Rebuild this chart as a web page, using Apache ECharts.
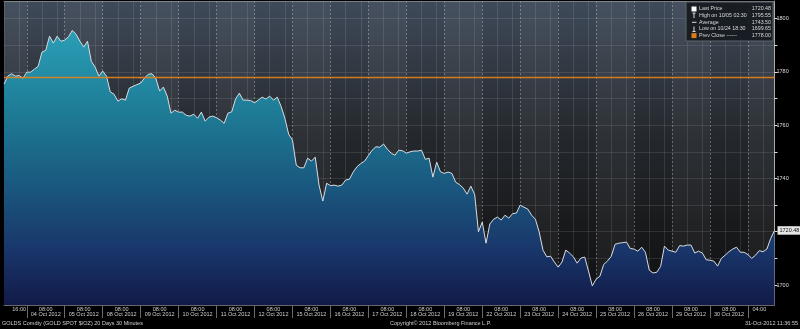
<!DOCTYPE html>
<html><head><meta charset="utf-8">
<script src="https://cdn.jsdelivr.net/npm/echarts@6/dist/echarts.min.js"></script>
<style>html,body{margin:0;padding:0;background:#000;}#c{width:800px;height:329px;}</style>
</head><body><div id="c"></div>
<script>
const days = ['03 Oct 2012','04 Oct 2012','05 Oct 2012','08 Oct 2012','09 Oct 2012','10 Oct 2012','11 Oct 2012','12 Oct 2012','15 Oct 2012','16 Oct 2012','17 Oct 2012','18 Oct 2012','19 Oct 2012','22 Oct 2012','23 Oct 2012','24 Oct 2012','25 Oct 2012','26 Oct 2012','29 Oct 2012','30 Oct 2012','31 Oct 2012'];
const price = [
1775.4,1778.4,1779.3,1778.4,1778.6,1777.6,
1779.9,1779.9,1781.0,1782.1,1787.4,1788.1,1793.4,1790.8,1793.4,1791.5,
1791.9,1793.2,1795.55,1794.1,1791.5,1789.3,1791.5,1784.0,1781.8,1778.4,
1780.3,1778.4,1772.5,1771.6,1769.0,1769.9,1769.4,1773.9,1774.6,1775.2,
1775.8,1777.6,1779.1,1779.3,1777.6,1772.8,1774.3,1770.9,1764.5,1765.6,
1764.9,1764.9,1763.7,1763.4,1764.1,1762.6,1764.9,1761.5,1763.0,1763.4,
1762.8,1761.9,1760.7,1764.5,1765.0,1769.8,1772.0,1769.4,1769.4,1769.2,
1768.4,1769.4,1770.5,1769.8,1770.9,1769.4,1770.5,1767.1,1762.6,1756.6,
1754.4,1745.0,1744.0,1744.0,1747.6,1746.5,1748.0,1737.5,1731.5,1738.2,
1737.3,1737.5,1737.1,1737.5,1739.4,1739.7,1742.4,1744.4,1745.6,1746.5,
1748.6,1750.6,1751.9,1751.7,1752.9,1751.0,1749.5,1748.7,1750.6,1750.4,
1749.5,1750.0,1750.3,1750.3,1750.6,1747.2,1747.6,1740.5,1746.1,1742.5,
1741.9,1742.4,1741.9,1738.6,1737.7,1736.4,1734.1,1737.1,1734.0,1720.0,
1723.6,1715.7,1722.9,1724.7,1725.5,1724.4,1726.2,1725.1,1726.8,1727.0,
1730.0,1729.2,1728.5,1726.2,1724.7,1719.9,1713.1,1710.6,1710.8,1708.6,
1706.7,1708.6,1713.1,1712.0,1710.6,1708.2,1710.1,1710.5,1705.2,1699.65,
1702.2,1703.3,1707.7,1709.0,1710.8,1715.3,1715.7,1715.9,1716.1,1713.7,
1713.5,1712.7,1714.2,1712.3,1705.6,1704.5,1704.8,1707.0,1714.6,1713.1,
1712.7,1712.3,1714.8,1714.6,1715.0,1715.0,1712.0,1712.7,1712.0,1709.5,
1709.3,1709.0,1707.1,1710.0,1711.2,1712.5,1713.5,1714.2,1712.3,1712.3,
1711.4,1710.0,1711.2,1712.9,1712.5,1713.5,1717.5,1720.48
];
const prevClose = 1778.00;
const legendLabels = ['Last Price','High on 10/05 02:30','Average','Low on 10/24 18:30','Prev Close ------'];
const legendValues = ['1720.48','1795.55','1743.50','1699.65','1778.00'];
const footerTexts = ['GOLDS Comdty (GOLD SPOT $/OZ) 20 Days 30 Minutes','Copyright\u00a9 2012 Bloomberg Finance L.P.','31-Oct-2012 11:36:55'];

const FONT = '"Liberation Sans", Arial, sans-serif';
const ORANGE = '#e8821a';
const P = 10, FIRST = 6, N = price.length, FULLDAYS = days.length - 2;
const cats = price.map((_, i) => String(i));
const mod = i => (((i - FIRST) % P) + P) % P;
const isBoundary = i => i >= FIRST && mod(i) === 0 && i < N - 1;
const isMinor = i => mod(i) === 4 || mod(i) === 8;
function labelFor(i) {
  if (i === 4) return '16:00';
  if (i === N - 5) return '04:00';
  const r = i - FIRST;
  if (r >= 0 && r % P === 5 && i < FIRST + P * FULLDAYS) return '08:00\n' + days[1 + (r - 5) / P];
  return null;
}
const dayStart = k => k === 0 ? 0 : FIRST + P * (k - 1);
const dayEnd = k => Math.min(FIRST + P * k, N - 1);
const bands = [];
for (let k = 0; k < days.length; k += 2) bands.push([{ xAxis: cats[dayStart(k)] }, { xAxis: cats[dayEnd(k)] }]);
const last = price[N - 1];

const chart = echarts.init(document.getElementById('c'), null, { renderer: 'canvas' });
const LG = echarts.graphic.LinearGradient;
const rows = [9, 15.6, 22.3, 29, 35.6];
const graphics = [
  { type: 'rect', z: 100, shape: { x: 686, y: 2, width: 87, height: 39 }, style: { fill: 'rgba(22,27,33,0.95)', stroke: '#5f656c', lineWidth: 1 } },
  { type: 'rect', z: 101, shape: { x: 691.5, y: rows[0] - 2.5, width: 5, height: 5 }, style: { fill: '#ffffff' } },
  { type: 'line', z: 101, shape: { x1: 692.5, y1: rows[1] - 2.5, x2: 695.5, y2: rows[1] - 2.5 }, style: { stroke: '#ddd', lineWidth: 1 } },
  { type: 'line', z: 101, shape: { x1: 694, y1: rows[1] - 2.5, x2: 694, y2: rows[1] + 2.5 }, style: { stroke: '#ddd', lineWidth: 1 } },
  { type: 'line', z: 101, shape: { x1: 692, y1: rows[2], x2: 696.5, y2: rows[2] }, style: { stroke: '#ddd', lineWidth: 1 } },
  { type: 'line', z: 101, shape: { x1: 694, y1: rows[3] - 2.5, x2: 694, y2: rows[3] + 2.5 }, style: { stroke: '#ddd', lineWidth: 1 } },
  { type: 'line', z: 101, shape: { x1: 692.5, y1: rows[3] + 2.5, x2: 695.5, y2: rows[3] + 2.5 }, style: { stroke: '#ddd', lineWidth: 1 } },
  { type: 'rect', z: 101, shape: { x: 691.5, y: rows[4] - 2.5, width: 5, height: 5 }, style: { fill: '#e07b1c' } }
];
legendLabels.forEach((t, k) => {
  graphics.push({ type: 'text', z: 101, style: { text: t, x: 699, y: rows[k], fill: '#d8d8d8', fontSize: 5.3, fontFamily: FONT, verticalAlign: 'middle', align: 'left' } });
  graphics.push({ type: 'text', z: 101, style: { text: legendValues[k], x: 771, y: rows[k], fill: '#d8d8d8', fontSize: 5.3, fontFamily: FONT, verticalAlign: 'middle', align: 'right' } });
});
graphics.push({ type: 'text', z: 101, style: { text: footerTexts[0], x: 2, y: 323.5, fill: '#d0d0d0', fontSize: 5.5, fontFamily: FONT, verticalAlign: 'middle', align: 'left' } });
graphics.push({ type: 'text', z: 101, style: { text: footerTexts[1], x: 390, y: 323.5, fill: '#d0d0d0', fontSize: 5.5, fontFamily: FONT, verticalAlign: 'middle', align: 'left' } });
graphics.push({ type: 'text', z: 101, style: { text: footerTexts[2], x: 798, y: 323.5, fill: '#d0d0d0', fontSize: 5.5, fontFamily: FONT, verticalAlign: 'middle', align: 'right' } });

chart.setOption({
  backgroundColor: '#000',
  animation: false,
  grid: {
    left: 4, right: 25.5, top: 1, bottom: 24, show: true, borderWidth: 0,
    backgroundColor: new LG(0, 0, 0, 1, [
      { offset: 0, color: '#3e4a5a' }, { offset: 0.2, color: '#333a44' },
      { offset: 0.45, color: '#24282d' }, { offset: 0.75, color: '#18191b' }, { offset: 1, color: '#101012' }
    ])
  },
  xAxis: [{
    type: 'category', data: cats, boundaryGap: false,
    axisLine: { show: true, onZero: false, lineStyle: { color: '#666' } },
    axisTick: { show: true, interval: (i) => isBoundary(i), length: 13, lineStyle: { color: '#6a6a6a' } },
    axisLabel: { interval: (i) => labelFor(i) !== null, formatter: (v, i) => labelFor(i) || '', color: '#d0d0d0', fontSize: 5.5, lineHeight: 5, margin: 1.5, fontFamily: FONT },
    splitLine: { show: true, interval: (i) => isMinor(i), lineStyle: { color: 'rgba(255,255,255,0.1)', width: 1 } }
  }, {
    type: 'category', data: cats, boundaryGap: false, position: 'top',
    axisLine: { show: true, onZero: false, lineStyle: { color: '#7a7f86' } },
    axisTick: { show: false }, axisLabel: { show: false },
    splitLine: { show: true, interval: (i) => isBoundary(i), lineStyle: { color: 'rgba(255,255,255,0.3)', type: [2, 2] } }
  }],
  yAxis: {
    type: 'value', position: 'right', min: 1692.5, max: 1806.6, minInterval: 10, maxInterval: 10,
    axisLine: { show: true, lineStyle: { color: '#aaa' } },
    axisTick: { show: true, length: 3, lineStyle: { color: '#ddd' } },
    axisLabel: { formatter: v => (v % 20 === 0 && Math.abs(v - last) > 5) ? String(v) : '', showMinLabel: false, showMaxLabel: false, color: '#ddd', fontSize: 5.5, margin: 2, fontFamily: FONT },
    splitLine: { show: true, lineStyle: { color: 'rgba(255,255,255,0.1)' } }
  },
  series: [{
    name: 'Last Price', type: 'line', data: price, symbol: 'none', xAxisIndex: 0,
    lineStyle: { color: '#d9dde2', width: 1 },
    areaStyle: { opacity: 1, color: new LG(0, 0, 0, 1, [
      { offset: 0, color: '#2a9fb6' }, { offset: 0.3, color: '#1e7b96' },
      { offset: 0.55, color: '#1a5a80' }, { offset: 0.8, color: '#19366a' }, { offset: 1, color: '#111a48' }
    ]) },
    markArea: { silent: true, itemStyle: { color: 'rgba(255,255,255,0.045)' }, data: bands },
    markLine: { silent: true, symbol: ['none', 'none'], label: { show: false }, lineStyle: { color: ORANGE, width: 1.3, type: 'solid', opacity: 0.9 }, data: [{ yAxis: prevClose }] },
    endLabel: { show: true, formatter: p => Number(p.value).toFixed(2), color: '#111', backgroundColor: '#e6e6e6', fontSize: 5.5, padding: [1.5, 2, 1, 2], distance: 3, fontFamily: FONT }
  }],
  graphic: graphics
});
</script></body></html>
